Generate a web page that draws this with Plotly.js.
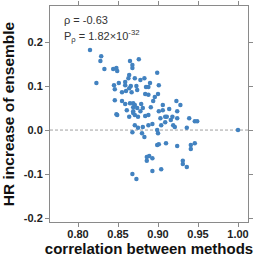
<!DOCTYPE html>
<html><head><meta charset="utf-8">
<script src="https://cdn.plot.ly/plotly-3.0.1.min.js"></script>
<style>html,body{margin:0;padding:0;background:#fff;}#chart{width:256px;height:257px;}</style>
</head><body><div id="chart"></div>
<script>
const corrValues = [0.815,0.829,0.828,0.833,0.844,0.849,0.848,0.865,0.868,0.868,
0.823,0.845,0.851,0.859,0.859,0.863,0.864,0.866,0.864,0.846,
0.855,0.860,0.867,0.846,0.855,0.859,0.865,0.869,0.869,0.861,
0.869,0.848,0.876,0.871,0.878,0.883,0.873,0.874,0.885,0.888,
0.890,0.899,0.901,0.884,0.888,0.900,0.896,0.894,0.891,0.871,
0.874,0.879,0.881,0.878,0.901,0.906,0.906,0.914,0.923,0.928,
0.924,0.871,0.875,0.884,0.888,0.903,0.909,0.911,0.916,0.918,
0.924,0.904,0.909,0.919,0.921,0.871,0.875,0.881,0.888,0.893,
0.868,0.880,0.883,0.899,0.900,0.899,0.901,0.910,0.924,0.931,
0.931,0.886,0.889,0.886,0.893,0.893,0.904,0.868,0.873,0.849,
0.864,0.869,0.939,0.946,0.949,0.936,1.000,0.941,0.946,0.941,0.936];
const hrIncrease = [0.182,0.168,0.157,0.139,0.139,0.134,0.141,0.157,0.148,0.141,
0.107,0.102,0.107,0.109,0.102,0.118,0.125,0.100,0.095,0.093,
0.086,0.089,0.086,0.068,0.066,0.059,0.061,0.061,0.052,0.045,
0.043,0.036,0.161,0.118,0.114,0.118,0.100,0.091,0.098,0.098,
0.107,0.130,0.102,0.082,0.080,0.082,0.075,0.066,0.052,0.057,
0.050,0.059,0.050,0.043,0.043,0.057,0.045,0.048,0.066,0.057,
0.043,0.034,0.030,0.032,0.034,0.027,0.030,0.030,0.023,0.030,
0.027,0.011,0.018,0.011,0.007,0.011,0.005,0.007,0.011,0.014,
-0.005,-0.007,-0.016,0.000,-0.007,-0.034,-0.032,-0.030,-0.036,-0.070,
-0.077,-0.061,-0.059,-0.070,-0.064,-0.093,-0.089,-0.100,-0.111,0.034,
0.030,0.039,0.027,0.020,0.020,0.005,0.000,-0.034,-0.030,-0.043,-0.084];
const xTickVals = [0.80,0.85,0.90,0.95,1.00];
const xTickText = ['0.80','0.85','0.90','0.95','1.00'];
const yTickVals = [-0.2,-0.1,0.0,0.1,0.2];
const yTickText = ['-0.2','-0.1','0.0','0.1','0.2'];
const rhoText = 'ρ = -0.63';
const pText = 'P<sub>ρ</sub> = 1.82×10<sup>-32</sup>';

const trace = {
  x: corrValues, y: hrIncrease, type: 'scatter', mode: 'markers',
  marker: {color: '#4282c0', size: 4.5, line: {width: 0}},
  hoverinfo: 'none'
};
const axisCommon = {
  showline: true, linecolor: '#8a8a8a', linewidth: 1, mirror: 'ticks',
  ticks: 'outside', ticklen: 4, tickcolor: '#8a8a8a', tickwidth: 1,
  showgrid: false, zeroline: false,
  tickfont: {family: 'Liberation Sans, Arial, sans-serif', size: 11, color: '#222', weight: 'bold'}
};
const layout = {
  width: 256, height: 257,
  margin: {l: 50, r: 8, t: 6, b: 35},
  paper_bgcolor: '#fff', plot_bgcolor: '#fff',
  showlegend: false,
  xaxis: Object.assign({}, axisCommon, {
    range: [0.765, 1.0125], tickmode: 'array', tickvals: xTickVals, ticktext: xTickText,
    ticklabelstandoff: -2,
    title: {text: 'correlation between methods', standoff: 7,
      font: {family: 'Liberation Sans, Arial, sans-serif', size: 15, color: '#111', weight: 'bold'}}
  }),
  yaxis: Object.assign({}, axisCommon, {
    range: [-0.209, 0.282], tickmode: 'array', tickvals: yTickVals, ticktext: yTickText,
    title: {text: 'HR increase of ensemble', standoff: 5,
      font: {family: 'Liberation Sans, Arial, sans-serif', size: 15.5, color: '#111', weight: 'bold'}}
  }),
  shapes: [{type: 'line', xref: 'paper', x0: 0, x1: 1, yref: 'y', y0: 0, y1: 0,
    line: {color: '#888', width: 0.8, dash: '3px,2px'}, layer: 'below'}],
  annotations: [
    {xref: 'paper', yref: 'paper', x: 0.06, y: 0.935, xanchor: 'left', yanchor: 'middle',
     text: rhoText, showarrow: false,
     font: {family: 'Liberation Sans, Arial, sans-serif', size: 11, color: '#333'}},
    {xref: 'paper', yref: 'paper', x: 0.06, y: 0.86, xanchor: 'left', yanchor: 'middle',
     text: pText, showarrow: false,
     font: {family: 'Liberation Sans, Arial, sans-serif', size: 11, color: '#333'}}
  ]
};
Plotly.newPlot('chart', [trace], layout, {staticPlot: true, displayModeBar: false});
</script></body></html>
